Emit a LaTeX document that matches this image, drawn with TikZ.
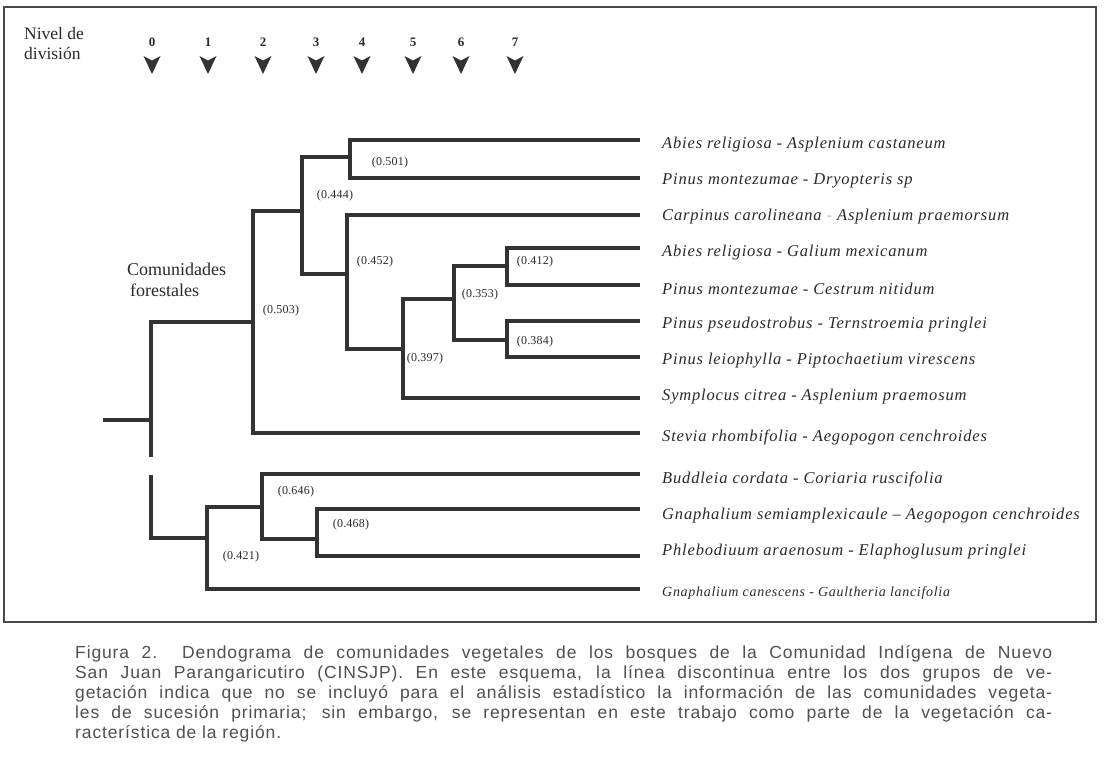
\documentclass[tikz,border=0pt]{standalone}
\usepackage{fontspec}
\setmainfont{Liberation Serif}
\newfontfamily\spfont[LetterSpace=5]{Liberation Serif}
\newfontfamily\numfont[LetterSpace=2]{Liberation Serif}
\newfontfamily\capfont[LetterSpace=5]{Liberation Sans}
\definecolor{ink}{HTML}{333333}
\definecolor{txt}{HTML}{2A2A2A}
\definecolor{captxt}{HTML}{505050}
\definecolor{framec}{HTML}{4A4A4A}
\begin{document}
\begin{tikzpicture}[x=1pt,y=-1pt,
  br/.style={line width=3.2pt, draw=ink, line join=miter},
  sp/.style={anchor=west, inner sep=0pt, font=\fontsize{16.5}{18}\spfont\itshape, text=txt},
  spsmall/.style={sp, font=\fontsize{14}{16}\spfont\itshape},
  val/.style={inner sep=0pt, font=\fontsize{12}{13}\numfont, text=txt},
  lev/.style={inner sep=0pt, font=\fontsize{13}{14}\selectfont\bfseries, text=txt},
  head/.style={inner sep=0pt, font=\fontsize{17.5}{20}\selectfont, text=txt},
  comm/.style={inner sep=0pt, font=\fontsize{18}{21}\selectfont, text=txt},
  captext/.style={anchor=base west, inner sep=0pt, font=\fontsize{17.5}{20}\capfont, text=captxt},
  arrowmark/.style={fill=ink}]
\fill[white] (0,0) rectangle (1104,770);
\useasboundingbox (0,0) rectangle (1104,770);
\draw[framec, line width=1.5pt] (4,7) rectangle (1096,622);

% header
\node[head, anchor=north west, align=left] (nivel) at (24,27) {Nivel de\\divisi\'on};
\foreach \i/\xx in {0/152,1/208,2/263,3/316,4/362,5/413,6/461,7/515}{
  \node[lev] (lv\i) at (\xx,42) {\i};
  \fill[arrowmark, shift={(\xx,56)}] (-8.5,0) -- (0,4.5) -- (8.5,0) -- (0,18) -- cycle;
}

% leaf line ends
\coordinate (e1) at (640,140);
\coordinate (e2) at (640,178);
\coordinate (e3) at (640,215);
\coordinate (e4) at (640,248);
\coordinate (e5) at (640,285);
\coordinate (e6) at (640,321);
\coordinate (e7) at (640,357);
\coordinate (e8) at (640,398);
\coordinate (e9) at (640,433);
\coordinate (e10) at (640,474);
\coordinate (e11) at (640,509);
\coordinate (e12) at (640,556);
\coordinate (e13) at (640,589);

% junctions
\coordinate (n501) at (350,157);
\coordinate (n412) at (507,266);
\coordinate (n384) at (507,340);
\coordinate (n353) at (454,299);
\coordinate (n397) at (403,349);
\coordinate (n452) at (347,274);
\coordinate (n444) at (302,211);
\coordinate (n503) at (253,322);
\coordinate (n468) at (317,539);
\coordinate (n646) at (262,507);
\coordinate (n421) at (207,538);
\coordinate (root) at (151,420);
\coordinate (stub) at (103,420);
\coordinate (g1) at (151,457);
\coordinate (g2) at (151,475);

% brackets
\draw[br] (e1) -| (n501) |- (e2);
\draw[br] (e4) -| (n412) |- (e5);
\draw[br] (e6) -| (n384) |- (e7);
\draw[br] (n412) -| (n353) |- (n384);
\draw[br] (n353) -| (n397) |- (e8);
\draw[br] (e3) -| (n452) |- (n397);
\draw[br] (n501) -| (n444) |- (n452);
\draw[br] (n444) -| (n503) |- (e9);
\draw[br] (n503) -| (g1);
\draw[br] (stub) -- (root);
\draw[br] (e11) -| (n468) |- (e12);
\draw[br] (e10) -| (n646) |- (n468);
\draw[br] (n646) -| (n421) |- (e13);
\draw[br] (g2) |- (n421);

% values
\node[val] (v501) at (390,163) {(0.501)};
\node[val] (v444) at (335,196) {(0.444)};
\node[val] (v452) at (375,262) {(0.452)};
\node[val] (v503) at (281,311) {(0.503)};
\node[val] (v412) at (535,262) {(0.412)};
\node[val] (v353) at (480,295) {(0.353)};
\node[val] (v384) at (535,342) {(0.384)};
\node[val] (v397) at (425,359) {(0.397)};
\node[val] (v646) at (296,492) {(0.646)};
\node[val] (v468) at (351,525) {(0.468)};
\node[val] (v421) at (241,557) {(0.421)};

\node[comm, anchor=north west, align=left] (comu) at (127,263) {Comunidades\\\hspace*{3pt}forestales};

% species
\node[sp] (l1) at (662,145) {Abies religiosa - Asplenium castaneum};
\node[sp] (l2) at (662,181) {Pinus montezumae - Dryopteris sp};
\node[sp] (l3) at (662,217) {Carpinus carolineana {\color{black!25}-} Asplenium praemorsum};
\node[sp] (l4) at (662,253) {Abies religiosa - Galium mexicanum};
\node[sp] (l5) at (662,289) {Pinus montezumae - Cestrum nitidum};
\node[sp] (l6) at (662,325) {Pinus pseudostrobus - Ternstroemia pringlei};
\node[sp] (l7) at (662,361) {Pinus leiophylla - Piptochaetium virescens};
\node[sp] (l8) at (662,397) {Symplocus citrea - Asplenium praemosum};
\node[sp] (l9) at (662,437) {Stevia rhombifolia - Aegopogon cenchroides};
\node[sp] (l10) at (662,479) {Buddleia cordata - Coriaria ruscifolia};
\node[sp] (l11) at (662,516) {Gnaphalium semiamplexicaule – Aegopogon cenchroides};
\node[sp] (l12) at (662,552) {Phlebodiuum araenosum - Elaphoglusum pringlei};
\node[spsmall] (l13) at (662,593) {Gnaphalium canescens - Gaultheria lancifolia};

% caption
\node[captext] (c1) at (75,658) {\makebox[977pt][s]{Figura 2.\ \ Dendograma de comunidades vegetales de los bosques de la Comunidad Ind\'igena de Nuevo}};
\node[captext] (c2) at (75,678) {\makebox[977pt][s]{San Juan Parangaricutiro (CINSJP). En este esquema, la l\'inea discontinua entre los dos grupos de ve-}};
\node[captext] (c3) at (75,698) {\makebox[977pt][s]{getaci\'on indica que no se incluy\'o para el an\'alisis estad\'istico la informaci\'on de las comunidades vegeta-}};
\node[captext] (c4) at (75,718) {\makebox[977pt][s]{les de sucesi\'on primaria; sin embargo, se representan en este trabajo como parte de la vegetaci\'on ca-}};
\node[captext] (c5) at (75,738) {racter\'istica de la regi\'on.};
\end{tikzpicture}
\end{document}
